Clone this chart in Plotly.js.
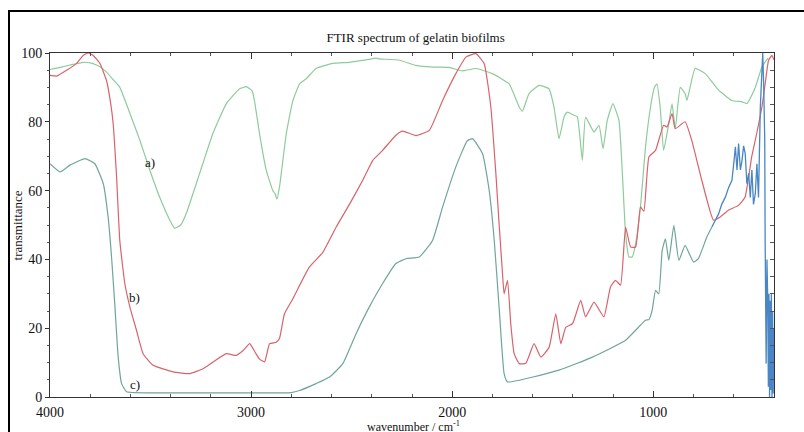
<!DOCTYPE html>
<html>
<head>
<meta charset="utf-8">
<script src="https://cdn.plot.ly/plotly-3.0.1.min.js"></script>
<style>
  html, body { margin: 0; padding: 0; background: #fff; }
  #wrap { position: relative; width: 804px; height: 432px; overflow: hidden; }
  #chart { position: absolute; left: 0; top: 0; width: 804px; height: 432px; }
  #frame { position: absolute; left: 8px; top: 10px; width: 820px; height: 450px;
           border-left: 2px solid #000; border-top: 2px solid #000; pointer-events: none; }
</style>
</head>
<body>
<div id="wrap"><div id="chart"></div><div id="frame"></div></div>
<script>
// Curve a) (green)
const waveA = [4000,3950,3900,3836,3790,3752,3720,3690,3653,3603,3553,3504,3454,3404,3380,3350,3322,3256,3190,3123,3057,3024,2995,2983,2958,2925,2892,2880,2872,2859,2825,2793,2759,2726,2677,2594,2511,2428,2379,2362,2263,2180,2097,2015,1950,1882,1800,1717,1667,1651,1618,1568,1519,1494,1469,1444,1428,1395,1378,1353,1337,1295,1270,1250,1229,1201,1171,1154,1138,1121,1105,1088,1064,1039,1014,995,982,966,949,923,907,891,866,842,833,792,742,675,609,559,534,493,460,430];
const transA = [95.2,95.8,96.5,97.3,97,96,94.5,92.5,90,82.5,74.6,66,58,51.4,49,50,53.4,65,76.6,85.3,89.6,90.2,89,86,76.5,66,60,59,57.5,61,76.6,86,91,92.5,95.5,97,97.3,98,98.5,98.3,97.9,96.4,95.9,95.8,94.8,95.5,94,91,84.3,83.1,88.2,90.6,89.6,84.3,75.1,81.4,82.8,81.9,81.5,68.8,81.4,77,79,72.2,80.4,85.3,80.4,65,47.5,40.7,40.7,44.6,55.2,72.7,84.3,90,91,84.3,71.7,79.5,85.3,78,90,88.2,86.2,95.5,94,89.2,86.2,85.8,85.3,90,96,98.5];

// Curve b) (red)
const waveB = [4000,3967,3917,3867,3835,3810,3785,3752,3719,3700,3686,3669,3653,3628,3603,3570,3537,3487,3388,3305,3239,3189,3123,3074,3040,3007,2980,2958,2933,2908,2875,2859,2834,2793,2710,2644,2577,2511,2445,2395,2346,2280,2247,2180,2114,2048,1982,1932,1882,1841,1808,1783,1767,1750,1742,1725,1709,1692,1667,1634,1593,1559,1518,1485,1460,1435,1402,1361,1337,1295,1246,1213,1188,1163,1138,1113,1088,1064,1047,1022,989,949,932,907,891,842,809,759,701,668,627,577,544,511,486,460,444,427,410,400];
const transB = [93.5,93.3,95,97,99.3,100,99.3,97,92,86,79.5,64,45.5,33,26.2,19.4,12.6,9.2,7.3,6.8,8.2,10.2,12.6,12.1,13.5,15.5,13,11,10.2,15.5,15.9,17,24.2,28.5,37.8,42,49.4,56,63,68.8,71.7,76.1,77.3,76,77.5,86.2,94,98.8,99.8,96.9,84.3,65,50.4,35.9,30,33.9,21.3,12.6,9.7,9.8,15.5,11.6,14.5,24.2,15.5,20.3,21.3,28.1,23.3,27.6,23.3,32,33.9,32.5,49.4,43.6,43.6,55.2,54,69.8,71.7,79,78.5,82.4,78,80,74.6,63,51.4,52.3,54.3,55.7,58.1,69.8,76.6,84.3,91,97.9,99.3,98];

// Curve c) (teal)
const waveC = [4000,3950,3901,3826,3777,3735,3711,3694,3677,3661,3644,3619,3500,3000,2800,2759,2677,2610,2544,2478,2412,2346,2280,2230,2164,2098,2048,1982,1925,1899,1849,1816,1791,1767,1742,1725,1469,1303,1138,1039,1022,1006,989,973,956,940,923,898,873,842,800,776,734,709];
const transC = [67.8,65.4,67.4,69.3,67.8,62,52.3,40.7,26.2,11.6,3.9,1.5,1.2,1.2,1.3,1.9,3.9,5.8,9.7,18.4,26.2,33,38.8,40.2,40.7,45.5,55.2,66.9,74.5,75.1,70.7,60,45.5,26.2,6.8,4.4,7.8,11.6,16.5,22.3,22.5,25.2,31,30,42.6,46,39.7,49.9,39.7,44.1,39.2,40.2,46.5,49.4];

// Noisy low-wavenumber segment (blue)
const waveD = [709,690,675,660,642,625,609,600,592,584,576,567,559,551,543,535,526,518,510,502,493,485,477,468,460,456,451,446,444,439,435,431,428,425,422,419,416,413,410,407,404,401];
const transD = [49.4,51.5,53.3,56,58.1,61,63,68,72.7,66,73.7,66,68.8,73,70.7,62,65,58,66,56,59.1,67.8,58,84.3,97.9,100,90,74.6,45.5,9.7,40,28,3,30,0,28,2,30,0,25,1,20];

const xTicks = [4000, 3000, 2000, 1000];
const xTickText = ['4000', '3000', '2000', '1000'];
const yTicks = [0, 20, 40, 60, 80, 100];

const serif = 'Liberation Serif, Times New Roman, serif';

const traces = [
  {x: waveA, y: transA, mode: 'lines', line: {color: '#8dcb9b', width: 1.2, shape: 'spline', smoothing: 0.4}, name: 'a)'},
  {x: waveB, y: transB, mode: 'lines', line: {color: '#d8636b', width: 1.2, shape: 'spline', smoothing: 0.4}, name: 'b)'},
  {x: waveC, y: transC, mode: 'lines', line: {color: '#6fa59a', width: 1.2, shape: 'spline', smoothing: 0.4}, name: 'c)'},
  {x: waveD, y: transD, mode: 'lines', line: {color: '#4a86c5', width: 1.3}, name: 'noise'}
];

const layout = {
  width: 804, height: 432,
  margin: {l: 50, r: 30, t: 53, b: 35},
  paper_bgcolor: 'rgba(0,0,0,0)', plot_bgcolor: '#fff',
  showlegend: false,
  font: {family: serif, color: '#111'},
  title: {text: 'FTIR spectrum of gelatin biofilms', font: {family: serif, size: 13, color: '#111'},
          xref: 'paper', x: 0.505, xanchor: 'center', yref: 'container', y: 0.914, yanchor: 'middle'},
  xaxis: {
    range: [4000, 400], autorange: false,
    tickvals: xTicks, ticktext: xTickText,
    ticks: 'inside', ticklen: 6, tickcolor: '#333',
    minor: {dtick: 200, tick0: 0, ticks: 'inside', ticklen: 3, tickcolor: '#555'},
    showline: true, linecolor: '#333', linewidth: 1, mirror: 'ticks',
    showgrid: false, zeroline: false,
    ticklabelstandoff: 2,
    tickfont: {family: serif, size: 14, color: '#111'}
  },
  yaxis: {
    range: [0, 100], autorange: false,
    tickvals: yTicks,
    ticks: 'outside', ticklen: 4, tickcolor: '#333',
    minor: {dtick: 5, tick0: 0, ticks: 'outside', ticklen: 2, tickcolor: '#555'},
    showline: true, linecolor: '#333', linewidth: 1, mirror: true,
    showgrid: false, zeroline: false,
    tickfont: {family: serif, size: 14, color: '#111'}
  },
  yaxis2: {
    overlaying: 'y', side: 'right', range: [0, 100], autorange: false,
    dtick: 5, tick0: 0, ticks: 'inside', ticklen: 4, tickcolor: '#555',
    showticklabels: false, showgrid: false, zeroline: false, showline: false
  },
  annotations: [
    {x: -0.045, y: 0.5, xref: 'paper', yref: 'paper', text: 'transmittance', textangle: -90, showarrow: false,
     xanchor: 'center', yanchor: 'middle', font: {family: serif, size: 13, color: '#111'}},
    {x: 0.502, y: -0.087, xref: 'paper', yref: 'paper', text: 'wavenumber / cm<sup>-1</sup>', showarrow: false,
     xanchor: 'center', yanchor: 'middle', font: {family: serif, size: 12, color: '#111'}},
    {x: 3504, y: 68.2, xref: 'x', yref: 'y', text: 'a)', showarrow: false, font: {family: serif, size: 13, color: '#111'}},
    {x: 3578, y: 29, xref: 'x', yref: 'y', text: 'b)', showarrow: false, font: {family: serif, size: 13, color: '#111'}},
    {x: 3578, y: 3.7, xref: 'x', yref: 'y', text: 'c)', showarrow: false, font: {family: serif, size: 13, color: '#111'}}
  ]
};

// invisible trace so the right-hand tick axis is drawn
traces.push({x: [4000], y: [50], yaxis: 'y2', mode: 'markers', marker: {opacity: 0}, hoverinfo: 'skip'});

Plotly.newPlot('chart', traces, layout, {staticPlot: true, displayModeBar: false});
</script>
</body>
</html>
